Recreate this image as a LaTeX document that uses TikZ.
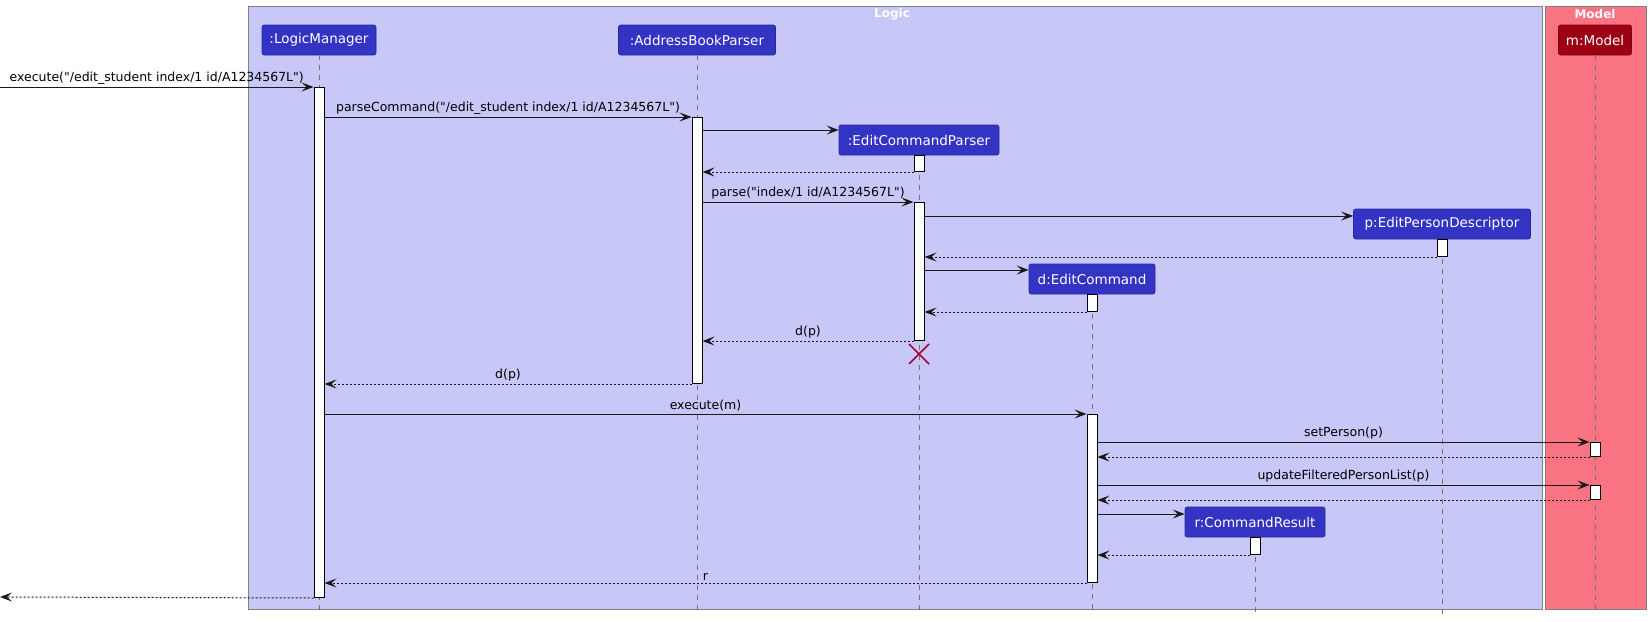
\documentclass[tikz,border=0pt]{standalone}
\usepackage{fontspec}
\setmainfont{DejaVu Sans}[Ligatures=TeXOff]
\usetikzlibrary{arrows.meta}
\definecolor{logicbg}{HTML}{C8C8F8}
\definecolor{modelbg}{HTML}{F97383}
\definecolor{logicc}{HTML}{3333C4}
\definecolor{modelc}{HTML}{9D0012}
\definecolor{grpline}{HTML}{808080}
\definecolor{killc}{HTML}{A80036}
\newcommand{\dq}{\symbol{34}}
\begin{document}
\begin{tikzpicture}[x=1pt,y=-1pt,
  grp/.style={draw=grpline, line width=1pt, anchor=north west, inner sep=0},
  ptitle/.style={font=\bfseries\fontsize{12}{14}\selectfont, text=white, inner sep=0},
  part/.style={draw=logicc!80!black, fill=logicc, rounded corners=2pt, text=white, font=\fontsize{13.5}{16}\selectfont, minimum height=30pt, inner sep=0, line width=0.6pt},
  life/.style={draw=black!55, dash pattern=on 5pt off 5pt, line width=0.8pt},
  act/.style={draw=black, fill=white, line width=1pt, minimum width=10pt, inner sep=0, anchor=north},
  msg/.style={-{Stealth[length=12pt,width=9pt,inset=5pt]}, line width=1pt, draw=black!90},
  ret/.style={msg, dash pattern=on 2pt off 2pt},
  lbl/.style={font=\fontsize{12.5}{15}\selectfont, above, inner sep=2pt, text=black}]
\useasboundingbox (0,0) rectangle (1651,621);
% groups
\node[grp, fill=logicbg, minimum width=1294pt, minimum height=603pt] (logic) at (248,6) {};
\node[grp, fill=modelbg, minimum width=101pt, minimum height=603pt] (model) at (1545,6) {};
\node[ptitle] (tlogic) at (892,14) {Logic};
\node[ptitle] (tmodel) at (1595,14) {Model};
% participants
\node[part, minimum width=114pt] (pLM) at (319,40) {:LogicManager};
\node[part, minimum width=157pt] (pABP) at (697,40) {:AddressBookParser};
\node[part, minimum width=160pt] (pECP) at (919,140) {:EditCommandParser};
\node[part, minimum width=177pt] (pEPD) at (1442,224) {p:EditPersonDescriptor};
\node[part, minimum width=126pt] (pEC) at (1092,279) {d:EditCommand};
\node[part, minimum width=140pt] (pCR) at (1255,522) {r:CommandResult};
\node[part, minimum width=73pt, fill=modelc, draw=modelc!80!black] (pM) at (1595,40) {m:Model};
% lifelines
\foreach \p in {pLM,pABP,pECP,pEPD,pEC,pCR,pM}
  \draw[life] (\p.south) -- (\p.south |- 0,614);
% activations
\node[act, minimum height=510pt] (aLM) at (319,87) {};
\node[act, minimum height=266pt] (aABP) at (697,117) {};
\node[act, minimum height=16pt] (aECP0) at (919,155) {};
\node[act, minimum height=138pt] (aECP) at (919,202) {};
\node[act, minimum height=17pt] (aEPD) at (1442,239) {};
\node[act, minimum height=17pt] (aEC0) at (1092,294) {};
\node[act, minimum height=168pt] (aEC) at (1092,414) {};
\node[act, minimum height=14pt] (aM1) at (1595,442) {};
\node[act, minimum height=14pt] (aM2) at (1595,485) {};
\node[act, minimum height=17pt] (aCR) at (1255,537) {};
% messages
\coordinate (ext1) at (0,87);
\coordinate (ext2) at (0,597);
\draw[msg] (ext1) -- node[lbl]{execute(\dq/edit\_student index/1 id/A1234567L\dq)} (aLM.west |- ext1);
\draw[msg] (aLM.east |- 0,117) -- node[lbl]{parseCommand(\dq/edit\_student index/1 id/A1234567L\dq)} (aABP.north west);
\draw[msg] (aABP.east |- 0,130) -- (pECP.west |- 0,130);
\draw[ret] (aECP0.south west) -- (aABP.east |- aECP0.south);
\draw[msg] (aABP.east |- 0,202) -- node[lbl]{parse(\dq index/1 id/A1234567L\dq)} (aECP.north west);
\draw[msg] (aECP.east |- 0,216) -- (pEPD.west |- 0,216);
\draw[ret] (aEPD.south west) -- (aECP.east |- aEPD.south);
\draw[msg] (aECP.east |- 0,270) -- (pEC.west |- 0,270);
\draw[ret] (aEC0.south west) -- (aECP.east |- aEC0.south);
\draw[ret] (aECP.south west) -- node[lbl]{d(p)} (aABP.east |- aECP.south);
\draw[killc, line width=1.6pt] (909,344) -- (929,364) (909,364) -- (929,344);
\draw[ret] (aABP.south west) -- node[lbl]{d(p)} (aLM.east |- aABP.south);
\draw[msg] (aLM.east |- 0,414) -- node[lbl]{execute(m)} (aEC.north west);
\draw[msg] (aEC.east |- 0,442) -- node[lbl]{setPerson(p)} (aM1.north west);
\draw[ret] (aM1.south west) -- (aEC.east |- aM1.south);
\draw[msg] (aEC.east |- 0,485) -- node[lbl]{updateFilteredPersonList(p)} (aM2.north west);
\draw[ret] (aM2.south west) -- (aEC.east |- aM2.south);
\draw[msg] (aEC.east |- 0,514) -- (pCR.west |- 0,514);
\draw[ret] (aCR.south west) -- (aEC.east |- aCR.south);
\draw[ret] (aEC.south west) -- node[lbl]{r} (aLM.east |- aEC.south);
\draw[ret] (aLM.south west) -- (ext2);
\end{tikzpicture}
\end{document}
